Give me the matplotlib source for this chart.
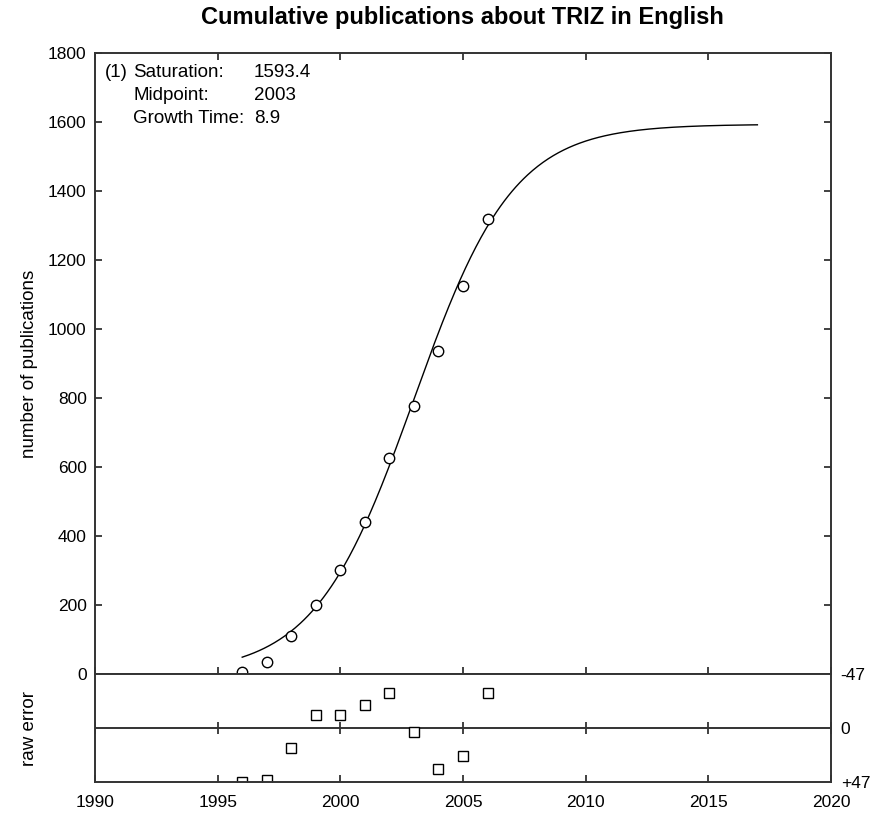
import numpy as np
import matplotlib
matplotlib.use("Agg")
import matplotlib.pyplot as plt

plt.rcParams['font.family'] = ['Liberation Sans', 'DejaVu Sans']

# Observed cumulative publication counts
years = [1996, 1997, 1998, 1999, 2000, 2001, 2002, 2003, 2004, 2005, 2006]
publications = [5, 36, 109, 201, 300, 440, 625, 776, 936, 1125, 1319]

# Raw error of the fit per year (axis shows -47 at the top, +47 at the bottom)
raw_error = [47, 44.6, 17.4, -11.2, -11.2, -19.9, -30.3, 3.1, 35.4, 23.9, -30.3]

# Logistic fit parameters
saturation = 1593.4
midpoint = 2003
growth_time = 8.9
fit_start, fit_end = 1996, 2017

x_ticks = [1990, 1995, 2000, 2005, 2010, 2015, 2020]
y_ticks = [0, 200, 400, 600, 800, 1000, 1200, 1400, 1600, 1800]
err_ticks = [-47, 0, 47]
err_labels = ['-47', '0', '+47']


def logistic(t):
    rate = np.log(81) / growth_time
    return saturation / (1 + np.exp(-rate * (t - midpoint)))


fig = plt.figure(figsize=(8.75, 8.14), dpi=100)
ax = fig.add_axes([0.1086, 0.1720, 0.8411, 0.7629])
ax_err = fig.add_axes([0.1086, 0.0387, 0.8411, 0.1333], sharex=ax)

frame_color = '#333333'
tick_size = 12.5
for a in (ax, ax_err):
    for s in a.spines.values():
        s.set_linewidth(1.4)
        s.set_color(frame_color)

# Main panel: fitted curve and observations
t = np.linspace(fit_start, fit_end, 400)
ax.plot(t, logistic(t), color='black', lw=1.0)
ax.plot(years, publications, 'o', ms=7.5, mfc='white', mec='black', mew=1.0)

ax.set_xlim(1990, 2020)
ax.set_ylim(0, 1800)
ax.set_xticks(x_ticks)
ax.set_yticks(y_ticks)
ax.tick_params(axis='both', direction='in', length=5, width=1.3, color=frame_color,
               top=True, right=True, labelbottom=False, labelsize=tick_size, pad=6)
ax.set_ylabel('number of publications', fontsize=13.5)
ax.yaxis.set_label_coords(-0.078, 0.5)
fig.text(0.529, 0.979, 'Cumulative publications about TRIZ in English',
         ha='center', va='center', fontsize=17, fontweight='bold')

# Fit parameter block
param_rows = [('Saturation:', '%.1f' % saturation),
              ('Midpoint:', '%d' % midpoint),
              ('Growth Time:', '%.1f' % growth_time)]
row_y = [0.969, 0.932, 0.895]
ax.text(0.0136, row_y[0], '(1)', transform=ax.transAxes, va='center', ha='left',
        fontsize=13.5)
for (name, value), yy in zip(param_rows, row_y):
    ax.text(0.0516, yy, name, transform=ax.transAxes, va='center', ha='left',
            fontsize=13.5)
    ax.text(0.216, yy, value, transform=ax.transAxes, va='center', ha='left',
            fontsize=13.5)

# Residual panel
ax_err.axhline(0, color=frame_color, lw=1.4)
ax_err.plot(x_ticks, [0] * len(x_ticks), '|', color=frame_color, ms=8, mew=1.3)
ax_err.plot(years, raw_error, 's', ms=7.5, mfc='white', mec='black', mew=1.0)
ax_err.set_ylim(47, -47)
ax_err.set_yticks(err_ticks)
ax_err.set_yticklabels(err_labels)
ax_err.yaxis.tick_right()
ax_err.tick_params(axis='y', length=0, labelsize=tick_size, pad=7)
ax_err.tick_params(axis='x', direction='in', length=5, width=1.3, color=frame_color,
                   labelsize=tick_size, pad=9)
ax_err.set_ylabel('raw error', fontsize=13.5)
ax_err.yaxis.set_label_position('left')
ax_err.yaxis.set_label_coords(-0.078, 0.5)

fig.savefig('out.png', dpi=100)
